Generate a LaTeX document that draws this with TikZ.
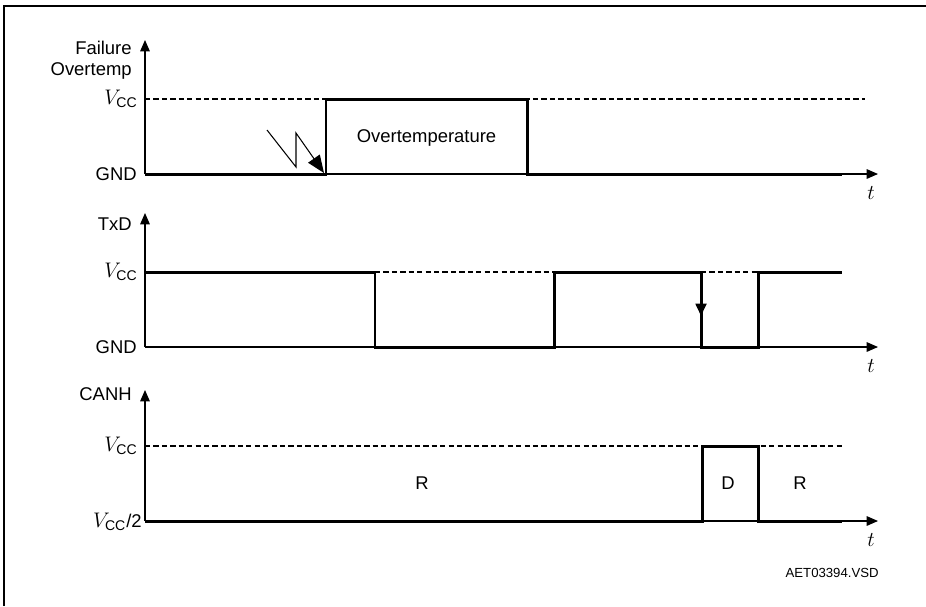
\documentclass[tikz,border=0pt]{standalone}
\usepackage{fontspec}
\setmainfont{Liberation Sans}
\usetikzlibrary{arrows.meta}

\begin{document}
\begin{tikzpicture}[x=0.02cm, y=-0.02cm,
lbl/.style = {% axis and level labels
    inner sep=0pt, font=\fontsize{10.5}{11.9}\selectfont,
            },
sig/.style = {line width=1.7pt, line join=miter},
ax/.style  = {line width=0.6pt, -{Triangle[length=6.5pt,width=5.5pt]}},
lvl/.style = {line width=1pt, dash pattern=on 3pt off 1.8pt},
                        ]
\newcommand{\vcc}{$V_{\mbox{\fontsize{8}{9}\selectfont CC}}$}
\useasboundingbox (0,0) rectangle (926,606);
% frame
\draw[line width=1pt] (4,606) -- (4,6) -- (926,6);
% axes: ground level / top level / axis top / name
\foreach \yb/\yt/\ya/\nm in {174/99/40/fo, 347/272/213/txd, 521/446/390/canh}{
    \draw[ax] (145,\yb) -- (878,\yb);
    \draw[ax] (145,\yb) -- (145,\ya);
    \node[lbl,anchor=base,font=\fontsize{12.5}{13}\selectfont] (t\nm) at (871,\yb+25.5) {$t$};
    \node[lbl,anchor=base east,font=\fontsize{12.5}{13}\selectfont] (vcc\nm) at (138,\yt+5.5) {\vcc};
}
% axis names
\node[lbl,anchor=base east,align=right] (fo)   at (132,75) {Failure\\Overtemp};
\node[lbl,anchor=base east]             (txd)  at (132,230) {TxD};
\node[lbl,anchor=base east]             (canh) at (132,400) {CANH};
% low levels
\node[lbl,anchor=base east] (gndfo)  at (137,180) {GND};
\node[lbl,anchor=base east] (gndtxd) at (137,353.5) {GND};
\node[lbl,anchor=base east,font=\fontsize{12.5}{13}\selectfont] (halfcanh) at (142,527)
    {\vcc\fontsize{10.5}{12}\selectfont/2};
% dashed Vcc levels
\draw[lvl] (145,99) -- (865,99);
\draw[lvl] (375,272) -- (554,272);
\draw[lvl] (701,272) -- (758,272);
\draw[lvl] (145,446) -- (842,446);
% Failure Overtemp
\draw[sig] (145,174) -- (326,174) -- (326,99) -- (527,99) -- (527,174) -- (842,174);
\node[lbl,anchor=base] (ot) at (426.5,142) {Overtemperature};
\draw[line width=0.6pt,-{Triangle[length=10pt,width=8pt]}]
    (267,130) -- (296,167) -- (296,133) -- (324,173);
% TxD
\draw[sig] (145,272) -- (375,272) -- (375,347) -- (554,347) -- (554,272)
    -- (701,272) -- (701,347) -- (758,347) -- (758,272) -- (842,272);
\draw[sig,-{Triangle[length=7pt,width=6pt]}] (701,272) -- (701,316);
% CANH
\draw[sig] (145,521) -- (702,521) -- (702,446) -- (758,446) -- (758,521) -- (842,521);
\node[lbl,anchor=base] (r1) at (422,489) {R};
\node[lbl,anchor=base] (d)  at (728,489) {D};
\node[lbl,anchor=base] (r2) at (800,489) {R};
% file name
\node[lbl,anchor=base east,font=\fontsize{7.5}{9}\selectfont] (fn) at (879,577) {AET03394.VSD};
\end{tikzpicture}
\end{document}
